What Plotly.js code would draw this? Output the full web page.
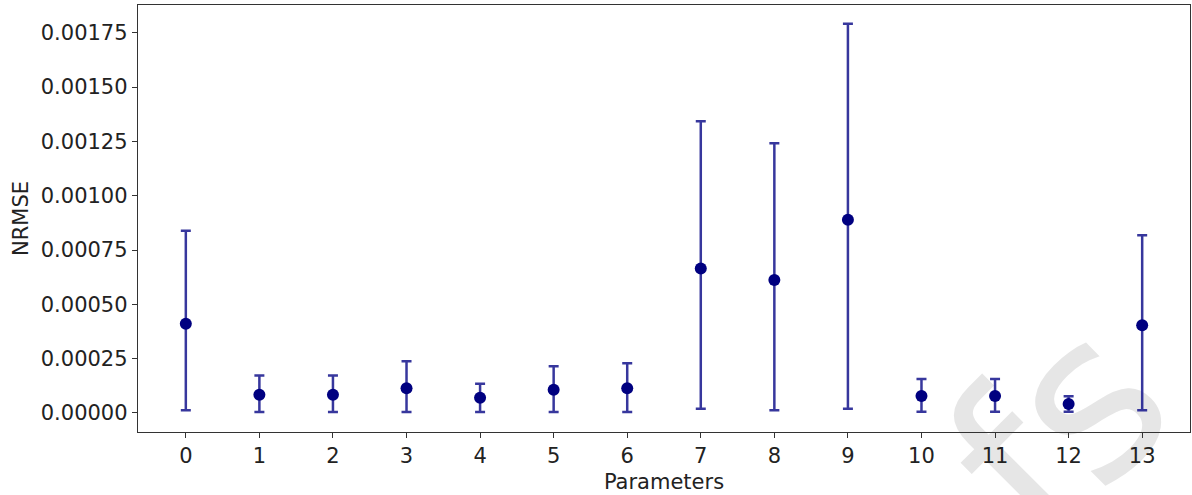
<!DOCTYPE html>
<html>
<head>
<meta charset="utf-8">
<script src="https://cdn.plot.ly/plotly-3.0.1.min.js"></script>
<style>
  html, body { margin: 0; padding: 0; background: #fff; overflow: hidden; }
  #wrap { position: relative; width: 1192px; height: 495px; overflow: hidden; background: #fff; }
  #watermark {
    position: absolute; left: 1010px; top: 478px;
    transform: translate(-50%, -50%) rotate(-45deg);
    font-family: "DejaVu Sans", sans-serif; font-size: 225px; line-height: 1;
    color: #e6e6e6; white-space: nowrap; z-index: 0; pointer-events: none;
  }
  #chart { position: absolute; left: 0; top: 0; width: 1192px; height: 495px; z-index: 1; }
</style>
</head>
<body>
<div id="wrap">
  <div id="watermark">ofs</div>
  <div id="chart"></div>
</div>
<script>
const parameters = [0, 1, 2, 3, 4, 5, 6, 7, 8, 9, 10, 11, 12, 13];
const nrmseMean = [0.000411, 0.0000843, 0.0000843, 0.000114, 0.0000704, 0.000107, 0.000114, 0.000665, 0.000612, 0.000889, 0.0000783, 0.0000783, 0.0000414, 0.000404];
const nrmseUpper = [0.000839, 0.000172, 0.000172, 0.000238, 0.000135, 0.000215, 0.000229, 0.001343, 0.001242, 0.001792, 0.000157, 0.000157, 0.0000767, 0.000818];
const nrmseLower = [0.0000124, 0.0000046, 0.0000046, 0.0000046, 0.0000046, 0.0000046, 0.0000046, 0.0000198, 0.0000124, 0.0000198, 0.000006, 0.000006, 0.000006, 0.0000124];
const xTickLabels = ["0","1","2","3","4","5","6","7","8","9","10","11","12","13"];

const errPlus = nrmseUpper.map((u, i) => u - nrmseMean[i]);
const errMinus = nrmseMean.map((m, i) => m - nrmseLower[i]);

const font = { family: "DejaVu Sans, sans-serif", size: 21, color: "#222" };

const trace = {
  x: parameters,
  y: nrmseMean,
  type: "scatter",
  mode: "markers",
  marker: { color: "#000080", size: 12 },
  error_y: {
    type: "data",
    symmetric: false,
    array: errPlus,
    arrayminus: errMinus,
    color: "rgba(20,20,140,0.85)",
    thickness: 2.5,
    width: 5
  },
  showlegend: false,
  hoverinfo: "x+y"
};

const layout = {
  width: 1192,
  height: 495,
  margin: { l: 138, r: 2, t: 5, b: 63 },
  paper_bgcolor: "rgba(0,0,0,0)",
  plot_bgcolor: "rgba(0,0,0,0)",
  font: font,
  xaxis: {
    range: [-0.65, 13.65],
    tickmode: "array",
    tickvals: parameters,
    ticktext: xTickLabels,
    ticks: "outside",
    ticklen: 5,
    tickwidth: 1,
    tickcolor: "#333",
    showgrid: false,
    zeroline: false,
    showline: true,
    linecolor: "#333",
    linewidth: 1.2,
    mirror: true,
    tickfont: font,
    title: { text: "Parameters", font: font, standoff: 6 }
  },
  yaxis: {
    range: [-0.0000875, 0.001878],
    tick0: 0,
    dtick: 0.00025,
    tickformat: ".5f",
    ticks: "outside",
    ticklen: 5,
    tickwidth: 1,
    tickcolor: "#333",
    showgrid: false,
    zeroline: false,
    showline: true,
    linecolor: "#333",
    linewidth: 1.2,
    mirror: true,
    tickfont: font,
    title: { text: "NRMSE", font: font, standoff: 6 }
  }
};

Plotly.newPlot("chart", [trace], layout, { displayModeBar: false, staticPlot: true });
</script>
</body>
</html>
